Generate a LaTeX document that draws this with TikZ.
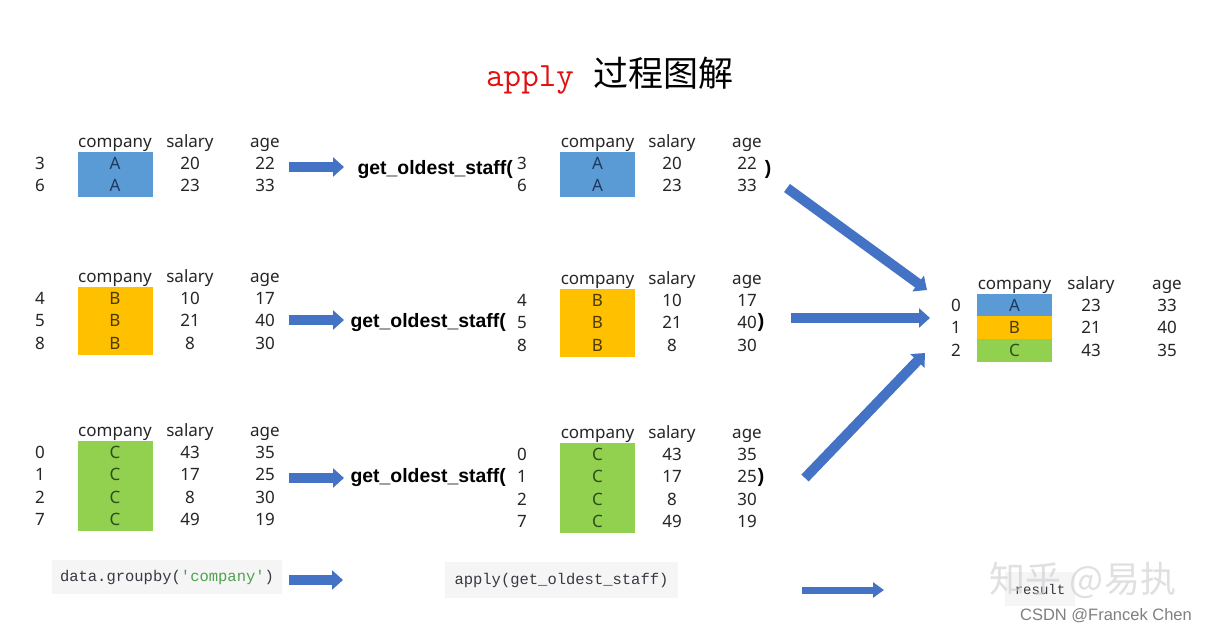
\documentclass[tikz,border=0pt]{standalone}
\usepackage{fontspec}
\setmainfont{Noto Sans}
\setmonofont{Liberation Mono}
\newfontfamily\cjk{Noto Sans CJK SC}
\newfontfamily\arialfont{Liberation Sans}
\newfontfamily\titlemono{Latin Modern Mono}
\usetikzlibrary{arrows.meta}

\definecolor{fillA}{HTML}{5B9BD5}
\definecolor{fillB}{HTML}{FFC000}
\definecolor{fillC}{HTML}{92D050}
\definecolor{textA}{HTML}{1F3A60}
\definecolor{textB}{HTML}{4D3A00}
\definecolor{textC}{HTML}{2E4D1A}
\definecolor{arrowblue}{HTML}{4472C4}
\definecolor{titlered}{HTML}{E01010}
\definecolor{codebg}{HTML}{F5F5F5}
\definecolor{codegreen}{HTML}{50A14F}
\definecolor{codetext}{HTML}{383A42}

\tikzset{
  cell/.style={font=\fontsize{17}{17}\selectfont, text=black!85, inner sep=0pt, text height=12pt, text depth=0pt},
  call/.style={font=\arialfont\bfseries\fontsize{19.4}{20}\selectfont, inner sep=0pt, text height=13pt, text depth=0pt},
  fat/.style={draw=arrowblue, line width=10pt, -{Triangle[length=11pt,width=19pt]}},
  slim/.style={draw=arrowblue, line width=7pt, -{Triangle[length=11pt,width=15pt]}},
  code/.style={fill=codebg, text=codetext, font=\ttfamily\fontsize{15.5}{16}\selectfont, inner sep=0pt}
}

% one table: index x, company x, salary x, age x, header y, rows
\newcommand{\grouptable}[6]{%
  \node[cell] at (#2,#5) {company};
  \node[cell] at (#3,#5) {salary};
  \node[cell] at (#4,#5) {age};
  \foreach \i/\c/\s/\a [count=\n from 0] in {#6} {
    \fill[fill\c] ({#2-37.5},{#5+10.5+22.5*\n}) rectangle ({#2+37.5},{#5+33.5+22.5*\n});
    \node[cell] at (#1,{#5+22+22.5*\n}) {\i};
    \node[cell,text=text\c] at (#2,{#5+22+22.5*\n}) {\c};
    \node[cell] at (#3,{#5+22+22.5*\n}) {\s};
    \node[cell] at (#4,{#5+22+22.5*\n}) {\a};
  }
}

\begin{document}
\begin{tikzpicture}[x=1pt,y=-1pt]
  \useasboundingbox[fill=white] (0,0) rectangle (1208,632);

  \node (title) at (610,76) {{\titlemono\fontsize{34}{34}\selectfont\color{titlered}apply}\hspace{20pt}{\cjk\fontsize{35}{35}\selectfont 过程图解}};

  % groups after groupby
  \grouptable{40}{115}{190}{265}{141}{3/A/20/22, 6/A/23/33}
  \grouptable{40}{115}{190}{265}{276}{4/B/10/17, 5/B/21/40, 8/B/8/30}
  \grouptable{40}{115}{190}{265}{430}{0/C/43/35, 1/C/17/25, 2/C/8/30, 7/C/49/19}

  % groups passed to the function
  \grouptable{522}{597.5}{672}{747}{141}{3/A/20/22, 6/A/23/33}
  \grouptable{522}{597.5}{672}{747}{278}{4/B/10/17, 5/B/21/40, 8/B/8/30}
  \grouptable{522}{597.5}{672}{747}{432}{0/C/43/35, 1/C/17/25, 2/C/8/30, 7/C/49/19}

  \node[call, anchor=east] (callA) at (513,168) {get\_oldest\_staff(};
  \node[call, anchor=east] (callB) at (506,321) {get\_oldest\_staff(};
  \node[call, anchor=east] (callC) at (506,476) {get\_oldest\_staff(};
  \node[call] (closeA) at (768,168) {)};
  \node[call] (closeB) at (761,321) {)};
  \node[call] (closeC) at (761,476) {)};

  % result
  \grouptable{956}{1014.5}{1091}{1167}{283}{0/A/23/33, 1/B/21/40, 2/C/43/35}

  \coordinate (A0) at (289,167); \coordinate (A1) at (344,167);
  \coordinate (B0) at (289,320); \coordinate (B1) at (344,320);
  \coordinate (C0) at (289,478); \coordinate (C1) at (344,478);
  \coordinate (A2) at (787,188); \coordinate (A3) at (927,290);
  \coordinate (B2) at (791,318); \coordinate (B3) at (930,318);
  \coordinate (C2) at (805,478); \coordinate (C3) at (925,353);
  \coordinate (D0) at (289,580); \coordinate (D1) at (343,580);
  \coordinate (E0) at (802,590); \coordinate (E1) at (884,590);
  \draw[fat] (A0) -- (A1);
  \draw[fat] (B0) -- (B1);
  \draw[fat] (C0) -- (C1);
  \draw[fat] (A2) -- (A3);
  \draw[fat] (B2) -- (B3);
  \draw[fat] (C2) -- (C3);
  \draw[fat] (D0) -- (D1);
  \draw[slim] (E0) -- (E1);

  % code under each step
  \node[code, minimum width=230pt, minimum height=34pt] (groupby) at (167,577) {data.groupby({\color{codegreen}'company'})};
  \node[code, minimum width=233pt, minimum height=36pt] (apply) at (561.5,580) {apply(get\_oldest\_staff)};
  \node[code, minimum width=70pt, minimum height=34pt, font=\ttfamily\fontsize{14}{14}\selectfont] (result) at (1040,589) {result};

  \node[text=gray!40, opacity=0.6, font=\cjk\fontsize{36}{36}\selectfont] (zhihu) at (1083,580) {知乎 @易执};
  \node[text=gray, font=\arialfont\fontsize{16.5}{17}\selectfont] (csdn) at (1106,616) {CSDN @Francek Chen};
\end{tikzpicture}
\end{document}
